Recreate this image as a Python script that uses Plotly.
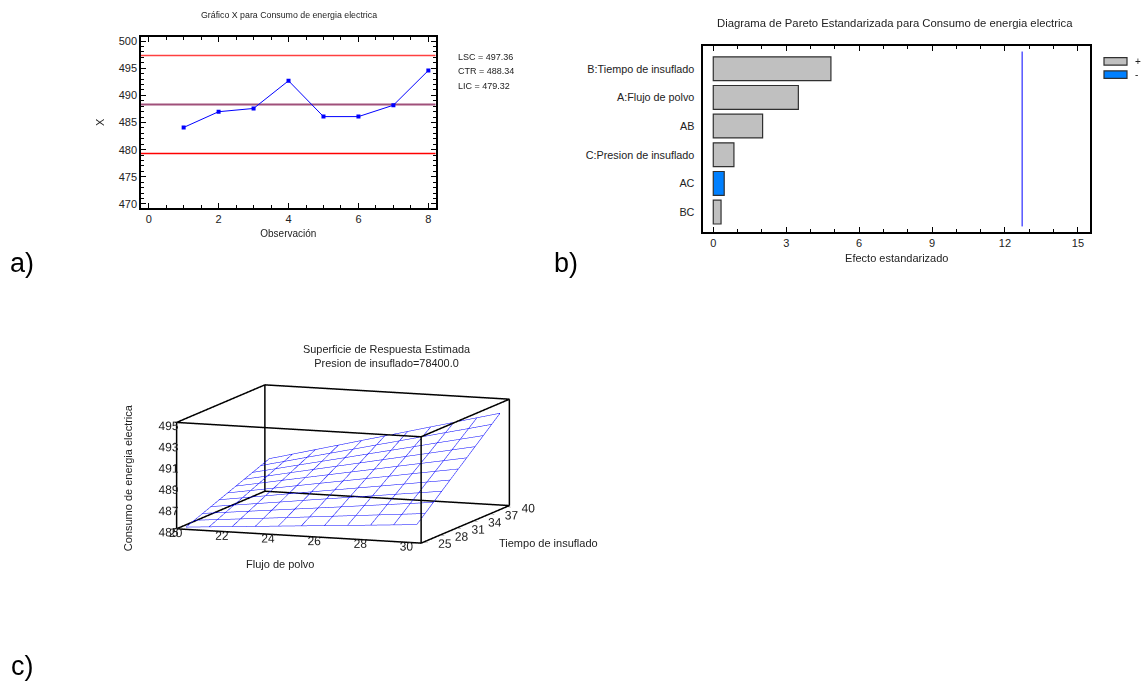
import plotly.graph_objects as go

W, H = 1141, 687
FONT = "Liberation Sans, Arial, sans-serif"

# ---- a) X chart data ----
obs = [1, 2, 3, 4, 5, 6, 7, 8]
x_means = [484.1, 487.0, 487.6, 492.7, 486.1, 486.1, 488.2, 494.6]
lsc, ctr, lic = 497.36, 488.34, 479.32

# ---- b) Standardized Pareto data ----
effects = ["B:Tiempo de insuflado", "A:Flujo de polvo", "AB",
           "C:Presion de insuflado", "AC", "BC"]
std_effect = [4.84, 3.50, 2.03, 0.85, 0.45, 0.32]
effect_sign = ["+", "+", "+", "+", "-", "+"]
t_crit = 12.706

# ---- c) Estimated response surface (Presion de insuflado = 78400) ----
flujo = [20, 21, 22, 23, 24, 25, 26, 27, 28, 29, 30]
tiempo = [25.0, 26.5, 28.0, 29.5, 31.0, 32.5, 34.0, 35.5, 37.0, 38.5, 40.0]
# rows: tiempo, columns: flujo
consumo = [
    [485.10, 485.25, 485.40, 485.55, 485.70, 485.85, 486.00, 486.15, 486.30, 486.45, 486.60],
    [485.41, 485.60, 485.79, 485.98, 486.17, 486.36, 486.55, 486.74, 486.93, 487.12, 487.31],
    [485.72, 485.95, 486.18, 486.41, 486.64, 486.87, 487.10, 487.34, 487.57, 487.80, 488.03],
    [486.03, 486.30, 486.57, 486.84, 487.12, 487.39, 487.66, 487.93, 488.20, 488.47, 488.74],
    [486.34, 486.65, 486.96, 487.28, 487.59, 487.90, 488.21, 488.52, 488.83, 489.15, 489.46],
    [486.65, 487.00, 487.35, 487.71, 488.06, 488.41, 488.76, 489.11, 489.47, 489.82, 490.17],
    [486.96, 487.35, 487.75, 488.14, 488.53, 488.92, 489.31, 489.71, 490.10, 490.49, 490.88],
    [487.27, 487.70, 488.14, 488.57, 489.00, 489.43, 489.87, 490.30, 490.73, 491.17, 491.60],
    [487.58, 488.05, 488.53, 489.00, 489.47, 489.95, 490.42, 490.89, 491.37, 491.84, 492.31],
    [487.89, 488.40, 488.92, 489.43, 489.94, 490.46, 490.97, 491.49, 492.00, 492.51, 493.03],
    [488.20, 488.75, 489.31, 489.86, 490.42, 490.97, 491.52, 492.08, 492.63, 493.19, 493.74],
]
flujo_box = [19.7, 30.3]
tiempo_box = [24.55, 40.45]
consumo_box = [485, 495]


def px(x):
    return x / W


def py(y):
    return 1 - y / H


def padded(r, frac=0.002):
    # a hair of padding so the frame edges are not clipped by the scene bounds
    d = (r[1] - r[0]) * frac
    return [r[0] - d, r[1] + d]


fig = go.Figure()

# ---- a) X chart ----
fig.add_trace(go.Scatter(x=[-0.22, 8.21], y=[lsc, lsc], mode="lines",
                         line=dict(color="#ff4040", width=1.5),
                         xaxis="x", yaxis="y", hoverinfo="skip"))
fig.add_trace(go.Scatter(x=[-0.22, 8.21], y=[ctr, ctr], mode="lines",
                         line=dict(color="#a0507a", width=2),
                         xaxis="x", yaxis="y", hoverinfo="skip"))
fig.add_trace(go.Scatter(x=[-0.22, 8.21], y=[lic, lic], mode="lines",
                         line=dict(color="#ff0000", width=1.5),
                         xaxis="x", yaxis="y", hoverinfo="skip"))
fig.add_trace(go.Scatter(x=obs, y=x_means, mode="lines+markers",
                         line=dict(color="#0000ff", width=1),
                         marker=dict(symbol="square", size=4, color="#0000ff"),
                         xaxis="x", yaxis="y"))

# ---- b) Pareto ----
bar_colors = ["#c0c0c0" if s == "+" else "#0080ff" for s in effect_sign]
ypos = list(range(len(effects)))
fig.add_trace(go.Bar(x=std_effect, y=ypos, orientation="h", width=0.83,
                     marker=dict(color=bar_colors, line=dict(color="#303030", width=1.2)),
                     xaxis="x2", yaxis="y2"))
fig.add_trace(go.Scatter(x=[t_crit, t_crit], y=[-0.6, 5.5], mode="lines",
                         line=dict(color="#0000ff", width=1),
                         xaxis="x2", yaxis="y2", hoverinfo="skip"))

# ---- c) bounding box edges, one trace per edge ----
x0, x1 = flujo_box
y0, y1 = tiempo_box
z0, z1 = consumo_box
edges = [
    ((x0, y0, z0), (x1, y0, z0)), ((x0, y1, z0), (x1, y1, z0)),
    ((x0, y0, z1), (x1, y0, z1)), ((x0, y1, z1), (x1, y1, z1)),
    ((x0, y0, z0), (x0, y1, z0)), ((x1, y0, z0), (x1, y1, z0)),
    ((x0, y0, z1), (x0, y1, z1)), ((x1, y0, z1), (x1, y1, z1)),
    ((x0, y0, z0), (x0, y0, z1)), ((x1, y0, z0), (x1, y0, z1)),
    ((x0, y1, z0), (x0, y1, z1)), ((x1, y1, z0), (x1, y1, z1)),
]
for a, b in edges:
    fig.add_trace(go.Scatter3d(x=[a[0], b[0]], y=[a[1], b[1]], z=[a[2], b[2]], mode="lines",
                               line=dict(color="black", width=3),
                               scene="scene", hoverinfo="skip"))

# ---- c) response surface as wireframe ----
lx, ly, lz = [], [], []
for j, t in enumerate(tiempo):
    for i, f in enumerate(flujo):
        lx.append(f); ly.append(t); lz.append(consumo[j][i])
    lx.append(None); ly.append(None); lz.append(None)
for i, f in enumerate(flujo):
    for j, t in enumerate(tiempo):
        lx.append(f); ly.append(t); lz.append(consumo[j][i])
    lx.append(None); ly.append(None); lz.append(None)
fig.add_trace(go.Scatter3d(x=lx, y=ly, z=lz, mode="lines",
                           line=dict(color="#0000ff", width=1),
                           connectgaps=False, scene="scene"))

axis_common = dict(showgrid=False, zeroline=False, showline=True, linecolor="black",
                   linewidth=1.5, mirror="ticks", ticks="inside", tickcolor="black",
                   ticklen=5, tickwidth=1, tickfont=dict(size=11, color="#222"))

s3 = dict(showgrid=False, showbackground=False, showline=False,
          ticks="outside", ticklen=4, tickcolor="black", tickangle=0,
          showspikes=False, tickfont=dict(size=12, color="#222"),
          title=dict(text=""), zeroline=False)

eye_dir = (0.3436, -0.9257, 0.1579)
k = 3.0
zoom3d = 2.03

fig.update_layout(
    width=W, height=H, margin=dict(l=0, r=0, t=0, b=0),
    paper_bgcolor="white", plot_bgcolor="white", showlegend=False,
    font=dict(family=FONT, color="#222"),
    xaxis=dict(domain=[px(141), px(435.7)], range=[-0.22, 8.21], tickvals=[0, 2, 4, 6, 8],
               minor=dict(dtick=0.5, ticks="inside", ticklen=3, tickcolor="black"),
               title=dict(text="Observación", font=dict(size=10), standoff=6),
               anchor="y", **axis_common),
    yaxis=dict(domain=[py(207), py(35)], range=[469.3, 500.8], tickvals=[470, 475, 480, 485, 490, 495, 500],
               minor=dict(dtick=1, ticks="inside", ticklen=3, tickcolor="black"),
               title=dict(text="X", font=dict(size=11), standoff=12),
               anchor="x", **axis_common),
    xaxis2=dict(domain=[px(703.3), px(1090.3)], range=[-0.41, 15.51], tickvals=[0, 3, 6, 9, 12, 15],
                minor=dict(dtick=1, ticks="inside", ticklen=3, tickcolor="black"),
                title=dict(text="Efecto estandarizado", font=dict(size=11), standoff=6),
                anchor="y2", **axis_common),
    yaxis2=dict(domain=[py(231.5), py(44.2)], range=[5.70, -0.795], tickvals=ypos, ticktext=effects,
                showgrid=False, zeroline=False, showline=True, linecolor="black", linewidth=1.5,
                mirror=True, ticks="", ticklabelstandoff=5, tickfont=dict(size=10.8, color="#222"),
                anchor="x2"),
    scene=dict(
        domain=dict(x=[px(142.5), px(542.5)], y=[py(595.2), py(335.2)]),
        xaxis=dict(range=padded(flujo_box), tickvals=[20, 22, 24, 26, 28, 30], **s3),
        yaxis=dict(range=padded(tiempo_box), tickvals=[25, 28, 31, 34, 37, 40], **s3),
        zaxis=dict(range=padded(consumo_box), tickvals=[485, 487, 489, 491, 493, 495],
                   ticksuffix="\u2003\u2002", **s3),
        aspectmode="manual",
        aspectratio=dict(x=1 * zoom3d, y=0.973 * zoom3d, z=0.413 * zoom3d),
        camera=dict(eye=dict(x=k * eye_dir[0], y=k * eye_dir[1], z=k * eye_dir[2]),
                    center=dict(x=0, y=0, z=0), up=dict(x=0, y=0, z=1),
                    projection=dict(type="orthographic")),
        bgcolor="white",
    ),
)

annotations = [
    dict(text="Gráfico X para Consumo de energia electrica", x=px(289), y=py(13), size=8.8),
    dict(text="Diagrama de Pareto Estandarizada para Consumo de energia electrica", x=px(895), y=py(21), size=11.3),
    dict(text="Superficie de Respuesta Estimada<br>Presion de insuflado=78400.0", x=px(386.7), y=py(356), size=10.9),
]
for a in annotations:
    fig.add_annotation(text=a["text"], x=a["x"], y=a["y"], xref="paper", yref="paper",
                       showarrow=False, font=dict(size=a["size"], color="#222"),
                       xanchor="center", yanchor="middle")

# axis titles of the surface plot
for text, tx, ty, ang in [("Flujo de polvo", 280, 565, 0),
                          ("Tiempo de insuflado", 548, 544, 0),
                          ("Consumo de energia electrica", 128, 479, -90)]:
    fig.add_annotation(text=text, x=px(tx), y=py(ty), xref="paper", yref="paper",
                       showarrow=False, textangle=ang, font=dict(size=11, color="#222"),
                       xanchor="center", yanchor="middle")

for i, (lab, val) in enumerate([("LSC", lsc), ("CTR", ctr), ("LIC", lic)]):
    fig.add_annotation(text=f"{lab} = {val:.2f}", x=px(456), y=py(55 + 14.5 * i), xref="paper", yref="paper",
                       showarrow=False, xanchor="left", yanchor="middle", font=dict(size=9, color="#222"))

# legend keys of the Pareto chart
for i, (sym, col) in enumerate([("+", "#c0c0c0"), ("-", "#0080ff")]):
    ly0 = 56 + 13.3 * i
    fig.add_shape(type="rect", xref="paper", yref="paper", x0=px(1104), x1=px(1127),
                  y0=py(ly0 + 7.5), y1=py(ly0), fillcolor=col, line=dict(color="#303030", width=1.2))
    fig.add_annotation(text=sym, x=px(1133), y=py(ly0 + 3.8), xref="paper", yref="paper",
                       showarrow=False, xanchor="left", yanchor="middle", font=dict(size=10, color="#222"))

for lab, lx0, ly0 in [("a)", 8, 263), ("b)", 552, 263), ("c)", 9, 668)]:
    fig.add_annotation(text=lab, x=px(lx0), y=py(ly0), xref="paper", yref="paper", showarrow=False,
                       xanchor="left", yanchor="middle", font=dict(size=27, color="black"))

fig.write_html("out.html")
